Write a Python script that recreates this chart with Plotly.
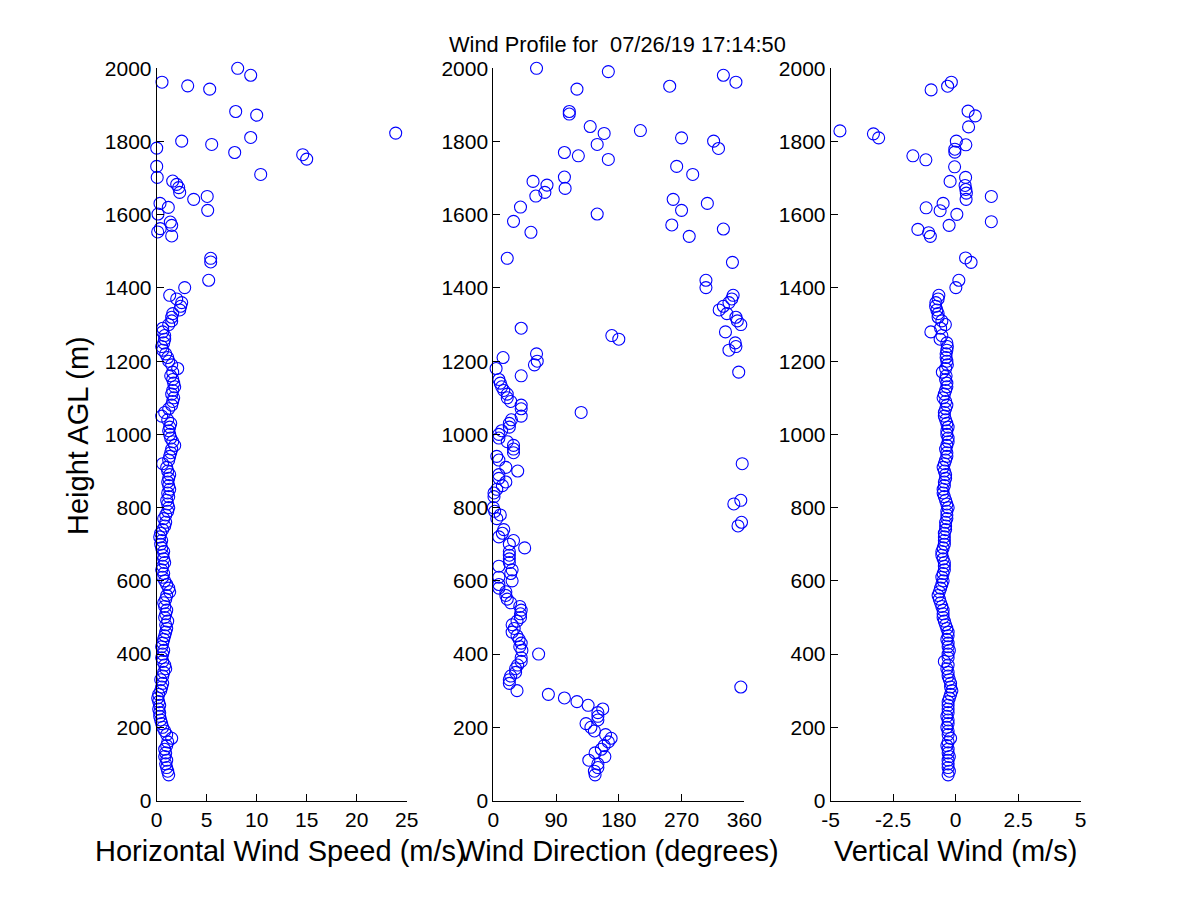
import plotly.graph_objects as go

# ---- range gates 70..1380 m (dense part of the profile) ----
heights_low = [
    70, 80, 90, 100, 110, 120, 130, 140, 150, 160,
    170, 180, 190, 200, 210, 220, 230, 240, 250, 260,
    270, 280, 290, 300, 310, 320, 330, 340, 350, 360,
    370, 380, 390, 400, 410, 420, 430, 440, 450, 460,
    470, 480, 490, 500, 510, 520, 530, 540, 550, 560,
    570, 580, 590, 600, 610, 620, 630, 640, 650, 660,
    670, 680, 690, 700, 710, 720, 730, 740, 750, 760,
    770, 780, 790, 800, 810, 820, 830, 840, 850, 860,
    870, 880, 890, 900, 910, 920, 930, 940, 950, 960,
    970, 980, 990, 1000, 1010, 1020, 1030, 1040, 1050, 1060,
    1070, 1080, 1090, 1100, 1110, 1120, 1130, 1140, 1150, 1160,
    1170, 1180, 1190, 1200, 1210, 1220, 1230, 1240, 1250, 1260,
    1270, 1280, 1290, 1300, 1310, 1320, 1330, 1340, 1350, 1360, 1370, 1380,
]

speed_low = [
    1.2, 1.1, 1.0, 0.9, 1.0, 0.8, 0.9, 0.8, 1.0, 1.1,
    1.5, 1.0, 0.8, 0.6, 0.5, 0.4, 0.3, 0.3, 0.2, 0.3,
    0.2, 0.1, 0.2, 0.4, 0.5, 0.6, 0.4, 0.6, 0.7, 0.9,
    0.8, 0.6, 0.5, 0.6, 0.7, 0.5, 0.6, 0.7, 0.8, 0.9,
    1.0, 0.9, 1.1, 0.8, 0.9, 1.0, 0.8, 0.7, 0.9, 1.0,
    1.3, 1.2, 1.0, 0.8, 0.6, 0.7, 0.5, 0.6, 0.8, 0.7,
    0.6, 0.7, 0.5, 0.4, 0.5, 0.3, 0.4, 0.6, 0.8, 0.9,
    0.7, 0.9, 1.1, 1.2, 1.1, 1.0, 1.2, 1.1, 1.3, 1.2,
    1.1, 1.2, 1.3, 1.1, 1.0, 0.6, 1.2, 1.3, 1.4, 1.5,
    1.8, 1.6, 1.4, 1.3, 1.2, 1.3, 1.4, 1.1, 0.5, 0.8,
    1.2, 1.5, 1.6, 1.7, 1.5, 1.6, 1.8, 1.7, 1.6, 1.4,
    1.6, 2.1, 1.5, 1.2, 1.1, 0.9, 0.6, 0.5, 0.7, 0.8,
    0.8, 0.6, 0.6, 1.2, 1.5, 1.5, 1.6, 2.3, 2.4, 2.5, 2.0, 1.3,
]

direction_low = [
    146, 145, 150, 150, 137, 160, 146, 155, 159, 165,
    169, 161, 145, 140, 133, 150, 150, 150, 157, 136,
    120, 102, 79, 34, 355, 23, 23, 25, 32, 32,
    35, 40, 40, 65, 41, 38, 40, 37, 34, 27,
    30, 27, 34, 39, 39, 40, 38, 25, 20, 18,
    18, 8, 8, 27, 8, 25, 27, 8, 23, 23,
    23, 23, 45, 23, 29, 8, 13, 15, 351, 356,
    5, 10, 2, 0, 345, 355, 1, 1, 5, 13,
    18, 8, 8, 35, 18, 357, 8, 5, 29, 29,
    29, 20, 8, 8, 12, 23, 23, 26, 40, 126,
    40, 40, 25, 20, 20, 15, 12, 10, 8, 40,
    352, 4, 59, 63, 14, 62, 338, 348, 347, 180,
    170, 333, 40, 355, 350, 348, 335, 324, 330, 338, 342, 344,
]

vertical_low = [
    -0.3, -0.25, -0.3, -0.3, -0.3, -0.25, -0.3, -0.3, -0.35, -0.3,
    -0.2, -0.3, -0.3, -0.35, -0.3, -0.3, -0.35, -0.3, -0.3, -0.3,
    -0.3, -0.25, -0.2, -0.15, -0.2, -0.2, -0.25, -0.3, -0.3, -0.35,
    -0.3, -0.45, -0.3, -0.3, -0.25, -0.3, -0.3, -0.35, -0.3, -0.3,
    -0.35, -0.4, -0.45, -0.5, -0.5, -0.5, -0.55, -0.6, -0.65, -0.7,
    -0.65, -0.6, -0.55, -0.5, -0.55, -0.5, -0.45, -0.45, -0.45, -0.5,
    -0.55, -0.55, -0.5, -0.45, -0.45, -0.45, -0.45, -0.4, -0.4, -0.4,
    -0.35, -0.35, -0.35, -0.3, -0.35, -0.4, -0.45, -0.5, -0.5, -0.45,
    -0.45, -0.4, -0.4, -0.45, -0.5, -0.45, -0.4, -0.35, -0.35, -0.4,
    -0.35, -0.3, -0.3, -0.35, -0.35, -0.3, -0.35, -0.4, -0.45, -0.45,
    -0.4, -0.35, -0.4, -0.5, -0.45, -0.4, -0.35, -0.35, -0.4, -0.38,
    -0.53, -0.4, -0.33, -0.35, -0.38, -0.38, -0.35, -0.33, -0.35, -0.62,
    -0.55, -0.99, -0.6, -0.41, -0.55, -0.7, -0.7, -0.75, -0.8, -0.79, -0.7, -0.67,
]

# ---- sparse upper gates, each panel keeps its own ----
speed_up_h = [1401, 1421, 1471, 1481, 1542, 1553, 1562, 1571, 1580, 1602,
              1612, 1620, 1631, 1642, 1650, 1661, 1674, 1683, 1692, 1702,
              1710, 1732, 1752, 1764, 1770, 1782, 1792, 1801, 1811, 1823,
              1872, 1882, 1943, 1952, 1962, 1981, 2000]
speed_up = [2.8, 5.2, 5.4, 5.4, 1.5, 0.1, 0.35, 1.5, 1.36, 0.13,
            5.1, 1.16, 0.33, 3.7, 5.05, 2.3, 2.2, 2.0, 1.6, 0.05,
            10.4, 0.0, 15.0, 14.6, 7.8, 0.0, 5.5, 2.5, 9.4, 23.9,
            10.0, 7.9, 5.3, 3.1, 0.53, 9.4, 8.1]

direction_up_h = [1401, 1421, 1470, 1481, 1541, 1552, 1561, 1572, 1582, 1602,
                  1612, 1621, 1631, 1642, 1651, 1661, 1672, 1681, 1691, 1703,
                  1710, 1732, 1751, 1761, 1770, 1781, 1792, 1801, 1810, 1822,
                  1830, 1841, 1875, 1882, 1943, 1951, 1962, 1981, 1991, 2000]
direction_up = [305, 305, 343, 20, 281, 54, 330, 256, 29, 149,
                270, 39, 307, 258, 61, 74, 103, 77, 57, 102,
                286, 263, 165, 122, 102, 323, 149, 316, 270, 159,
                211, 139, 109, 109, 120, 253, 348, 330, 165, 62]

vertical_up_h = [1401, 1421, 1470, 1482, 1541, 1551, 1560, 1571, 1581, 1601,
                 1611, 1619, 1631, 1642, 1650, 1659, 1669, 1680, 1691, 1702,
                 1731, 1750, 1761, 1771, 1779, 1791, 1801, 1810, 1821, 1829,
                 1840, 1870, 1883, 1941, 1951, 1962]
vertical_up = [0.01, 0.13, 0.62, 0.40, -1.01, -1.08, -1.51, -0.26, 1.43, 0.05,
               -0.62, -1.18, -0.50, 0.42, 1.43, 0.43, 0.41, 0.38, -0.22, 0.40,
               -0.04, -1.19, -1.71, -0.03, -0.03, 0.41, 0.03, -3.08, -3.29, -4.63,
               0.52, 0.79, 0.50, -0.98, -0.32, -0.17]

# ---- axis ticks ----
height_ticks = [0, 200, 400, 600, 800, 1000, 1200, 1400, 1600, 1800, 2000]
speed_ticks = [0, 5, 10, 15, 20, 25]
direction_ticks = [0, 90, 180, 270, 360]
vertical_ticks = [-5, -2.5, 0, 2.5, 5]
vertical_ticktext = ["-5", "-2.5", "0", "2.5", "5"]

title_text = "Wind Profile for  07/26/19 17:14:50"

FONT = "Liberation Sans, Arial, sans-serif"
W, H = 1200, 900
PAGE_OFFSET = 8  # default body margin of the html page


def px_x(p):
    return (p - PAGE_OFFSET) / W


def px_y(p):
    return 1 - (p - PAGE_OFFSET) / H


def matlab_axis(**kw):
    base = dict(showline=True, linewidth=1, linecolor="black", mirror=False,
                ticks="inside", ticklen=7, tickwidth=1, tickcolor="black",
                showgrid=False, zeroline=False,
                tickfont=dict(family=FONT, size=21, color="black"))
    base.update(kw)
    return base


marker = dict(symbol="circle-open", size=12, color="#0000ff",
              line=dict(width=1.1, color="#0000ff"))

fig = go.Figure()
panels = [
    (speed_low + speed_up, heights_low + speed_up_h, "x", "y"),
    (direction_low + direction_up, heights_low + direction_up_h, "x2", "y2"),
    (vertical_low + vertical_up, heights_low + vertical_up_h, "x3", "y3"),
]
for xs, ys, xa, ya in panels:
    fig.add_trace(go.Scatter(x=xs, y=ys, mode="markers", marker=marker,
                             xaxis=xa, yaxis=ya, cliponaxis=False,
                             showlegend=False, hoverinfo="x+y"))

y_dom = [px_y(800.5), px_y(68.3)]
yax = dict(range=[0, 2000], tickvals=height_ticks)

fig.update_layout(
    width=W, height=H,
    margin=dict(l=0, r=0, t=0, b=0, autoexpand=False),
    paper_bgcolor="white", plot_bgcolor="white",
    font=dict(family=FONT, color="black"),
    xaxis=matlab_axis(domain=[px_x(156.7), px_x(406.7)], range=[0, 25],
                      tickvals=speed_ticks, anchor="y"),
    xaxis2=matlab_axis(domain=[px_x(493.3), px_x(744.3)], range=[0, 360],
                       tickvals=direction_ticks, anchor="y2"),
    xaxis3=matlab_axis(domain=[px_x(830.7), px_x(1080.5)], range=[-5, 5],
                       tickvals=vertical_ticks, ticktext=vertical_ticktext,
                       anchor="y3"),
    yaxis=matlab_axis(domain=y_dom, anchor="x", **yax),
    yaxis2=matlab_axis(domain=y_dom, anchor="x2", **yax),
    yaxis3=matlab_axis(domain=y_dom, anchor="x3", **yax),
)

notes = [
    (title_text, 617.5, 44, 21.8, 0),
    ("Horizontal Wind Speed (m/s)", 280.5, 851, 29, 0),
    ("Wind Direction (degrees)", 618.8, 851, 29, 0),
    ("Vertical Wind (m/s)", 955.6, 851, 29, 0),
    ("Height AGL (m)", 78, 436, 29, -90),
]
for text, x, y, size, angle in notes:
    fig.add_annotation(text=text, x=px_x(x), y=px_y(y), xref="paper", yref="paper",
                       xanchor="center", yanchor="middle", showarrow=False,
                       textangle=angle, font=dict(family=FONT, size=size, color="black"))

fig.write_html("out.html")
